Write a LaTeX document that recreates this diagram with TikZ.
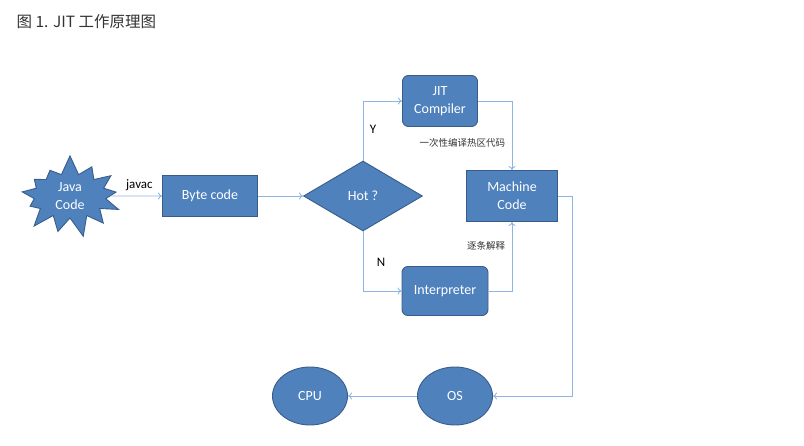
\documentclass[tikz,border=0pt]{standalone}
\usepackage{fontspec}
\setmainfont{Carlito}
\newfontfamily\cjk{Noto Sans CJK SC}
\usetikzlibrary{shapes.geometric,shapes.symbols,arrows.meta}
\definecolor{boxblue}{HTML}{4F81BD}
\definecolor{boxline}{HTML}{385D8A}
\definecolor{linkblue}{HTML}{8EB4E3}
\begin{document}
\begin{tikzpicture}[x=1pt,y=-1pt,
  block/.style={draw=boxline,fill=boxblue,line width=0.9pt,text=white,
    font=\fontsize{14}{18}\selectfont,align=center,inner sep=0pt},
  link/.style={draw=linkblue,line width=0.9pt,-{To[length=4pt,width=7pt]}},
  tag/.style={text=black,font=\fontsize{13}{15}\selectfont},
  cjktag/.style={text=black!80,font=\cjk\fontsize{9.5}{11}\selectfont}]
\useasboundingbox (0,0) rectangle (804,446);

% title
\node[anchor=west,text=black!80,font=\cjk\fontsize{15.5}{18}\selectfont] (title) at (13,22) {图 1. JIT 工作原理图};

% left part: source and byte code
\node[block,starburst,starburst points=13,starburst point height=20pt,
  random starburst=7,minimum width=112pt,minimum height=84pt] (java) at (70,196) {Java\\Code};
\node[block,minimum width=95pt,minimum height=41pt] (byte) at (210,196) {Byte code};
\node[block,diamond,minimum width=119pt,minimum height=70pt] (hot) at (363,196) {Hot ?};

% the two ways
\node[block,rounded corners=6pt,minimum width=75pt,minimum height=51pt] (jit) at (440,101) {JIT\\Compiler};
\node[block,rounded corners=6pt,minimum width=86pt,minimum height=49pt] (interp) at (445,291) {Interpreter};
\node[block,minimum width=91pt,minimum height=51pt] (mach) at (512,196) {Machine\\Code};

% bottom: OS and CPU
\node[block,ellipse,minimum width=75pt,minimum height=58pt] (os) at (455,396) {OS};
\node[block,ellipse,minimum width=75pt,minimum height=58pt] (cpu) at (310,396) {CPU};
\coordinate (turn) at (572,196);

% connectors
\draw[link] (java) -- (byte) node[tag,midway,above=1pt,xshift=3pt] (javac) {javac};
\draw[link] (byte) -- (hot);
\draw[link] (hot.north) |- (jit.west) node[tag,pos=0.26,right=3pt] (yes) {Y};
\draw[link] (hot.south) |- (interp.west) node[tag,pos=0.26,right=10pt] (no) {N};
\draw[link] (jit.east) -| (mach.north) node[cjktag,pos=0.8,left=3pt] (once) {一次性编译热区代码};
\draw[link] (interp.east) -| (mach.south) node[cjktag,pos=0.83,left=3pt] (each) {逐条解释};
\draw[link] (mach.east) -- (turn) |- (os.east);
\draw[link] (os) -- (cpu);
\end{tikzpicture}
\end{document}
